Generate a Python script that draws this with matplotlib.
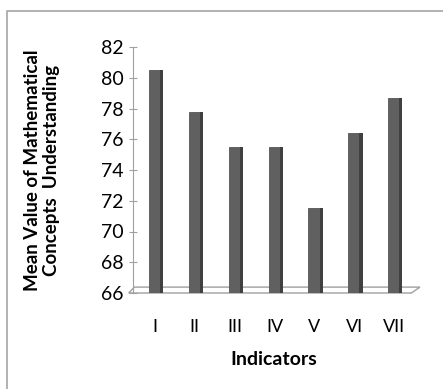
import matplotlib
matplotlib.use("Agg")
import matplotlib.pyplot as plt
from matplotlib.patches import Rectangle, Polygon

categories = ["I", "II", "III", "IV", "V", "VI", "VII"]
values = [80.5, 77.8, 75.5, 75.5, 71.5, 76.4, 78.7]
yticks = [66, 68, 70, 72, 74, 76, 78, 80, 82]

W, H = 443, 389
fig = plt.figure(figsize=(W / 100, H / 100), dpi=100)
plt.rcParams['font.family'] = ['Lato', 'DejaVu Sans']

# outer border
fig.patches.append(Rectangle((7 / W, -0.05), 1.1, (H - 11) / H + 0.05,
                             transform=fig.transFigure, fill=False,
                             edgecolor='#a6a6a6', linewidth=1.2))

ax = fig.add_axes([133 / W, (H - 293) / H, (420 - 133) / W, (293 - 47) / H])
x = list(range(len(categories)))
ax.bar(x, [v - 66 for v in values], bottom=66, width=0.3,
       color='#606060', edgecolor='#555555', linewidth=0.6, zorder=3)
# darker side face
ax.bar([xi + 0.17 for xi in x], [v - 66 for v in values], bottom=66, width=0.08,
       color='#404040', linewidth=0, zorder=3)

ax.set_xlim(-0.55, 6.65)
ax.set_ylim(66, 82)
ax.set_yticks(yticks)
ax.set_xticks(x)
ax.set_xticklabels(categories, fontsize=13)
ax.tick_params(axis='x', length=0, pad=19)
ax.tick_params(axis='y', direction='inout', length=6, color='#a0a0a0',
               labelsize=14, pad=4)
for s in ['top', 'right', 'bottom']:
    ax.spines[s].set_visible(False)
ax.spines['left'].set_color('#a0a0a0')

# floor
floor = Polygon([(-0.015, 0.0), (0.97, 0.0), (1.0, 0.024), (0.005, 0.024)],
                closed=True, transform=ax.transAxes, facecolor='white',
                edgecolor='#a0a0a0', linewidth=1.0, clip_on=False, zorder=2)
ax.add_patch(floor)

ax.set_ylabel("Mean Value of Mathematical\nConcepts  Understanding",
              fontsize=13.5, fontweight='bold', linespacing=1.1)
ax.yaxis.set_label_coords(-0.255, 0.5)
ax.set_xlabel("Indicators", fontsize=14, fontweight='bold')
ax.xaxis.set_label_coords(0.49, -0.235)

fig.savefig("out.png", dpi=100)
